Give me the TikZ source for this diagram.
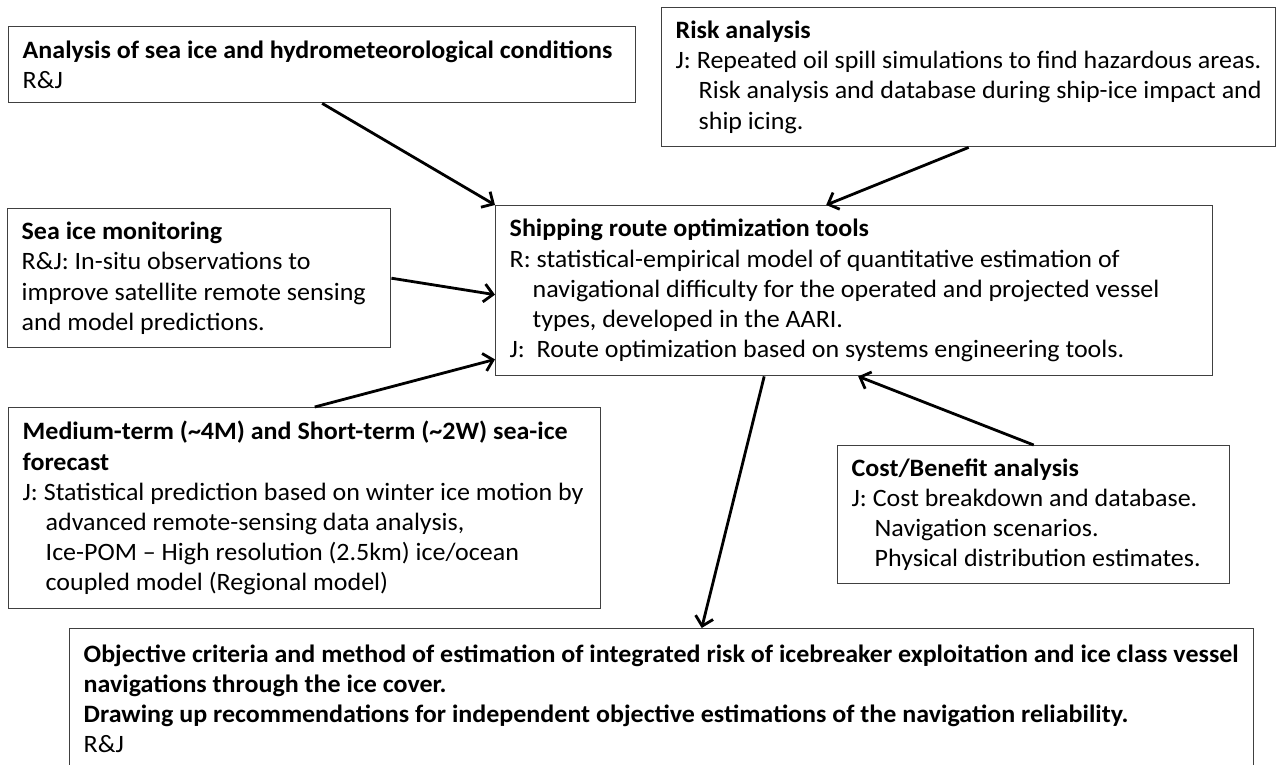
\documentclass[tikz,border=0pt]{standalone}
\usepackage{fontspec}
\setmainfont[FakeStretch = 1.04]{Carlito}
\usetikzlibrary{arrows.meta}

\newcommand{\ind}{\hspace*{11.5pt}}

\begin{document}
\begin{tikzpicture}[> = {Straight Barb[length = 4.5pt, width = 9pt]}, x = 0.5pt, y = -0.5pt,
	box/.style = {draw = black!75, line width = 0.7pt, anchor = north west, align = flush left,
		inner xsep = 7pt, inner ysep = 0pt, font = \fontsize{12.5}{15.1}\selectfont},
	link/.style = {->, line width = 1.4pt}]

	\useasboundingbox (0, 0) rectangle (1276, 765);

	% Boxes

	\node [box, text width = 299.5pt, minimum height = 38pt] (ana) at (8, 26)
		{\textbf{Analysis of sea ice and hydrometeorological conditions}\\
		 R\&J};

	\node [box, text width = 293pt, minimum height = 69.5pt] (risk) at (661, 7)
		{\textbf{Risk analysis}\\
		 J: Repeated oil spill simulations to find hazardous areas.\\
		 \ind Risk analysis and database during ship-ice impact and\\
		 \ind ship icing.};

	\node [box, text width = 177.5pt, minimum height = 69.5pt] (sea) at (7, 208)
		{\textbf{Sea ice monitoring}\\
		 R\&J: In-situ observations to\\
		 improve satellite remote sensing\\
		 and model predictions.};

	\node [box, text width = 344.5pt, minimum height = 85pt] (ship) at (495, 205)
		{\textbf{Shipping route optimization tools}\\
		 R: statistical-empirical model of quantitative estimation of\\
		 \ind navigational difficulty for the operated and projected vessel\\
		 \ind types, developed in the AARI.\\
		 J:~ Route optimization based on systems engineering tools.};

	\node [box, text width = 282pt, minimum height = 100.5pt] (med) at (8, 407)
		{\textbf{Medium-term (\textasciitilde4M) and Short-term (\textasciitilde2W) sea-ice}\\
		 \textbf{forecast}\\
		 J: Statistical prediction based on winter ice motion by\\
		 \ind advanced remote-sensing data analysis,\\
		 \ind Ice-POM \textendash{} High resolution (2.5km) ice/ocean\\
		 \ind coupled model (Regional model)};

	\node [box, text width = 182pt, minimum height = 69pt] (cost) at (837, 445)
		{\textbf{Cost/Benefit analysis}\\
		 J: Cost breakdown and database.\\
		 \ind Navigation scenarios.\\
		 \ind Physical distribution estimates.};

	\node [box, text width = 578pt, minimum height = 70pt] (bot) at (69, 628)
		{\textbf{Objective criteria and method of estimation of integrated risk of icebreaker exploitation and ice class vessel}\\
		 \textbf{navigations through the ice cover.}\\
		 \textbf{Drawing up recommendations for independent objective estimations of the navigation reliability.}\\
		 R\&J};

	% Arrows

	\draw [link] (ana.south) -- (ship.north west);
	\draw [link] (risk.south) -- ([xshift = -14pt] ship.north);
	\draw [link] (sea.east) -- ([yshift = -2pt] ship.west);
	\draw [link] ([xshift = 5pt] med.north) -- ([yshift = 8.5pt] ship.south west);
	\draw [link] (cost.north) -- ([xshift = 2pt] ship.south);
	\draw [link] ([xshift = -45pt] ship.south) -- ([xshift = 20pt] bot.north);

\end{tikzpicture}
\end{document}
